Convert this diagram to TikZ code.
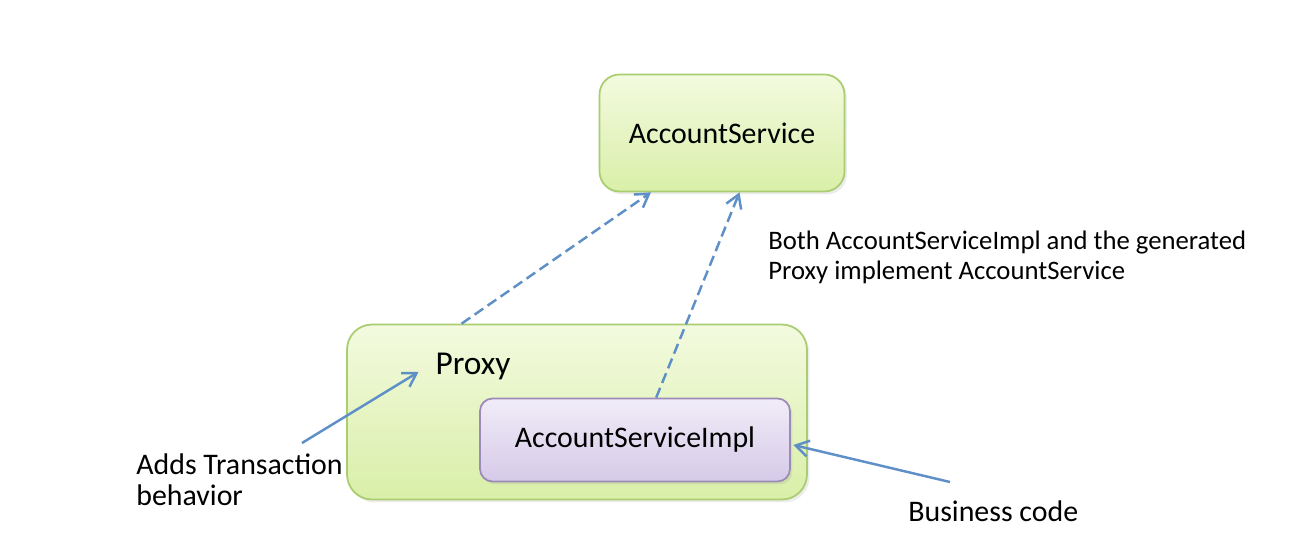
\documentclass[tikz,border=0pt]{standalone}
\usepackage{fontspec}
\setmainfont{Carlito}
\usetikzlibrary{arrows.meta,calc,shadows}
\definecolor{boxgreenA}{HTML}{F3FADF}
\definecolor{boxgreenB}{HTML}{D9EFA8}
\definecolor{linegreen}{HTML}{A9CD70}
\definecolor{boxpurpleA}{HTML}{F1ECF8}
\definecolor{boxpurpleB}{HTML}{D5CAE8}
\definecolor{linepurple}{HTML}{9C8BB8}
\definecolor{arrowblue}{HTML}{5E8FC6}
\begin{document}
\begin{tikzpicture}[x=0.02cm, y=-0.02cm, font=\fontsize{17}{17.6}\selectfont,
	greenbox/.style={draw=linegreen, line width=1pt, top color=boxgreenA, bottom color=boxgreenB, drop shadow={opacity=0.15, shadow xshift=0.5mm, shadow yshift=-0.6mm}},
	purplebox/.style={draw=linepurple, line width=1pt, top color=boxpurpleA, bottom color=boxpurpleB, rounded corners=0.25cm, drop shadow={opacity=0.15, shadow xshift=0.5mm, shadow yshift=-0.6mm}},
	note/.style={inner sep=0pt, align=left},
	implements/.style={draw=arrowblue, line width=1.4pt, dash pattern=on 6pt off 3pt, -{Straight Barb[length=2.6mm, width=3.2mm]}},
	pointer/.style={draw=arrowblue, line width=1.4pt, -{Straight Barb[length=2.6mm, width=3.2mm]}}]
	\useasboundingbox (0,0) rectangle (1304,560);
	\node[greenbox, rounded corners=0.4cm, minimum width=4.9cm, minimum height=2.34cm] (AS) at (722,133) {AccountService};
	\node[greenbox, rounded corners=0.5cm, minimum width=9.2cm, minimum height=3.5cm] (P) at (577,412) {};
	\node[inner sep=1pt] (PL) at (473,366) {\fontsize{19}{22}\selectfont Proxy};
	\node[purplebox, minimum width=6.2cm, minimum height=1.66cm] (I) at (635,440) {AccountServiceImpl};
	\node[note, anchor=north west] (T) at (136,453) {Adds Transaction\\behavior};
	\node[note, anchor=north west] (B) at (908,500) {Business code};
	\node[note, anchor=north west, font=\fontsize{15.2}{17}\selectfont] (N) at (768,231) {Both AccountServiceImpl and the generated\\Proxy implement AccountService};
	\draw[implements] ($(P.north west)!0.25!(P.north east)$) -- ($(AS.south west)!0.212!(AS.south east)$);
	\draw[implements] ($(I.north west)!0.568!(I.north east)$) -- ($(AS.south west)!0.571!(AS.south east)$);
	\draw[pointer] ([xshift=3.32cm, yshift=0.2cm]T.north west) -- ([xshift=-0.3cm, yshift=-0.12cm]PL.west);
	\draw[pointer] ([xshift=0.84cm, yshift=0.36cm]B.north west) -- ([xshift=0.05cm, yshift=-0.1cm]I.east);
\end{tikzpicture}
\end{document}
